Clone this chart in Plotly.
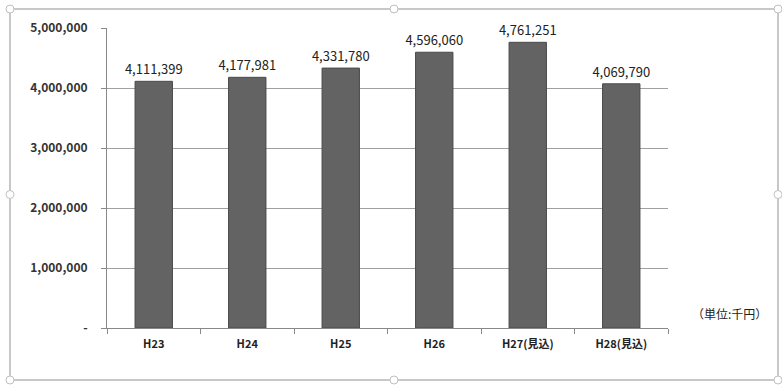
import plotly.graph_objects as go

categories = ["H23", "H24", "H25", "H26", "H27(見込)", "H28(見込)"]
values = [4111399, 4177981, 4331780, 4596060, 4761251, 4069790]
ytick_vals = [0, 1000000, 2000000, 3000000, 4000000, 5000000]
ytick_text = ["-", "1,000,000", "2,000,000", "3,000,000", "4,000,000", "5,000,000"]
unit_label = "（単位:千円）"

FONT = "Noto Sans CJK JP, Liberation Sans, sans-serif"

# plot area in pixels: x 107..668, y 28..328
PL, PW, PB, PH = 107, 561, 328, 300


def px(x):
    return (x - PL) / PW


def py(y):
    return (PB - y) / PH


fig = go.Figure(go.Bar(
    x=categories, y=values,
    marker=dict(color="#636363", line=dict(color="#4a4a4a", width=1)),
    text=[f"{v:,}" for v in values], textposition="outside",
    constraintext="none",
    textfont=dict(family=FONT, size=13, color="#222"),
    cliponaxis=False,
))

frame = dict(x0=10, x1=778, y0=9, y1=380)
shapes = [dict(
    type="rect", xref="paper", yref="paper",
    x0=px(frame["x0"]), x1=px(frame["x1"]),
    y0=py(frame["y1"]), y1=py(frame["y0"]),
    line=dict(color="#c8c8c8", width=2), layer="below",
)]
xm = (frame["x0"] + frame["x1"]) / 2
ym = (frame["y0"] + frame["y1"]) / 2
for hx, hy in [(frame["x0"], frame["y0"]), (xm, frame["y0"]), (frame["x1"], frame["y0"]),
               (frame["x0"], ym), (frame["x1"], ym),
               (frame["x0"], frame["y1"]), (xm, frame["y1"]), (frame["x1"], frame["y1"])]:
    shapes.append(dict(
        type="circle", xref="paper", yref="paper",
        xsizemode="pixel", ysizemode="pixel",
        xanchor=px(hx), yanchor=py(hy), x0=-4, x1=4, y0=-4, y1=4,
        fillcolor="white", line=dict(color="#c0c0c0", width=1), layer="above",
    ))

fig.update_layout(
    width=782, height=387,
    margin=dict(l=PL, r=782 - PL - PW, t=PB - PH, b=387 - PB),
    paper_bgcolor="white", plot_bgcolor="white",
    bargap=0.6, showlegend=False,
    xaxis=dict(
        type="category", showline=True, linecolor="#888", linewidth=1,
        ticks="outside", tickson="boundaries", ticklen=5, tickcolor="#888",
        tickfont=dict(family=FONT, size=11, color="#222", weight="bold"),
        showgrid=False, ticklabelstandoff=6,
    ),
    yaxis=dict(
        range=[0, 5000000], tickvals=ytick_vals, ticktext=ytick_text,
        showline=True, linecolor="#888", linewidth=1,
        ticks="outside", ticklen=5, tickcolor="#888",
        showgrid=True, gridcolor="#a0a0a0", gridwidth=1,
        tickfont=dict(family=FONT, size=12, color="#333", weight="bold"),
        zeroline=False, ticklabelstandoff=11,
    ),
    annotations=[dict(
        text=unit_label, xref="paper", yref="paper", x=px(690), y=py(313),
        xanchor="left", yanchor="middle", showarrow=False,
        font=dict(family=FONT, size=12, color="#222"),
    )],
    shapes=shapes,
)

fig.write_html("out.html", config={"displayModeBar": False},
               post_script="document.body.style.margin='0';document.body.style.overflow='hidden';")
